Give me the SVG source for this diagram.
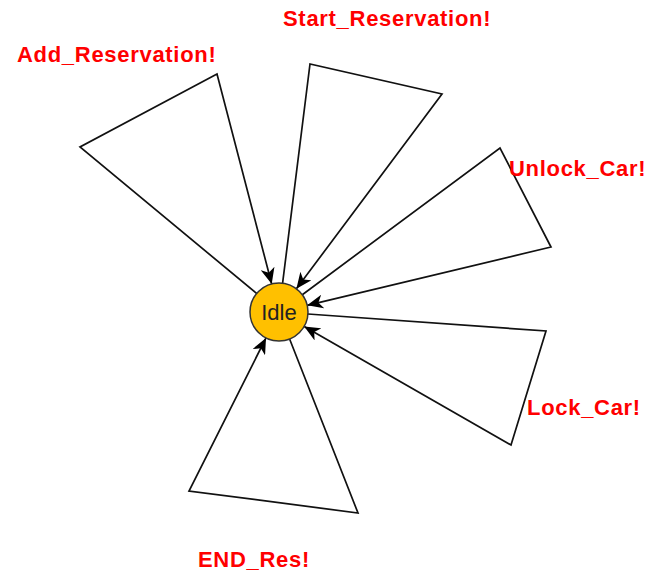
<svg xmlns="http://www.w3.org/2000/svg" width="646" height="571" viewBox="0 0 646 571">
<style>
.edge{fill:none;stroke:#111;stroke-width:1.7;stroke-linejoin:miter}
.lbl{font-family:"Liberation Sans",Arial,sans-serif;font-weight:bold;font-size:22px;fill:#ff0000;letter-spacing:0.7px}
.node{fill:#ffc000;stroke:#333;stroke-width:1.5}
.ntxt{font-family:"Liberation Sans",Arial,sans-serif;font-size:22px;fill:#222;text-anchor:middle}
</style>
<defs>
<marker id="arr" markerUnits="userSpaceOnUse" markerWidth="18" markerHeight="14" refX="16" refY="7" orient="auto">
<path d="M0,0 L16,7 L0,14 L4.5,7 z" fill="#000"/>
</marker>
</defs>
<rect width="646" height="571" fill="#fff"/>
<g id="connectors">
<polyline class="edge" points="256.7,293.5 80,147 217,74 271.7,284" marker-end="url(#arr)"/>
<polyline class="edge" points="282.6,283.2 310,64 442,94 296.4,288.8" marker-end="url(#arr)"/>
<polyline class="edge" points="302.3,294.7 500,148 551,247 307.2,305.3" marker-end="url(#arr)"/>
<polyline class="edge" points="307.9,314 546,331 511,445 304.2,326.4" marker-end="url(#arr)"/>
<polyline class="edge" points="289.6,339 358,513 189,491 266,337.9" marker-end="url(#arr)"/>
</g>
<g id="labels">
<text class="lbl" x="17" y="62">Add_Reservation!</text>
<text class="lbl" x="283" y="26">Start_Reservation!</text>
<text class="lbl" x="509" y="176">Unlock_Car!</text>
<text class="lbl" x="527" y="415">Lock_Car!</text>
<text class="lbl" x="198" y="567">END_Res!</text>
</g>
<g id="idle">
<circle class="node" cx="279" cy="312" r="29"/>
<text class="ntxt" x="279" y="320">Idle</text>
</g>
</svg>
